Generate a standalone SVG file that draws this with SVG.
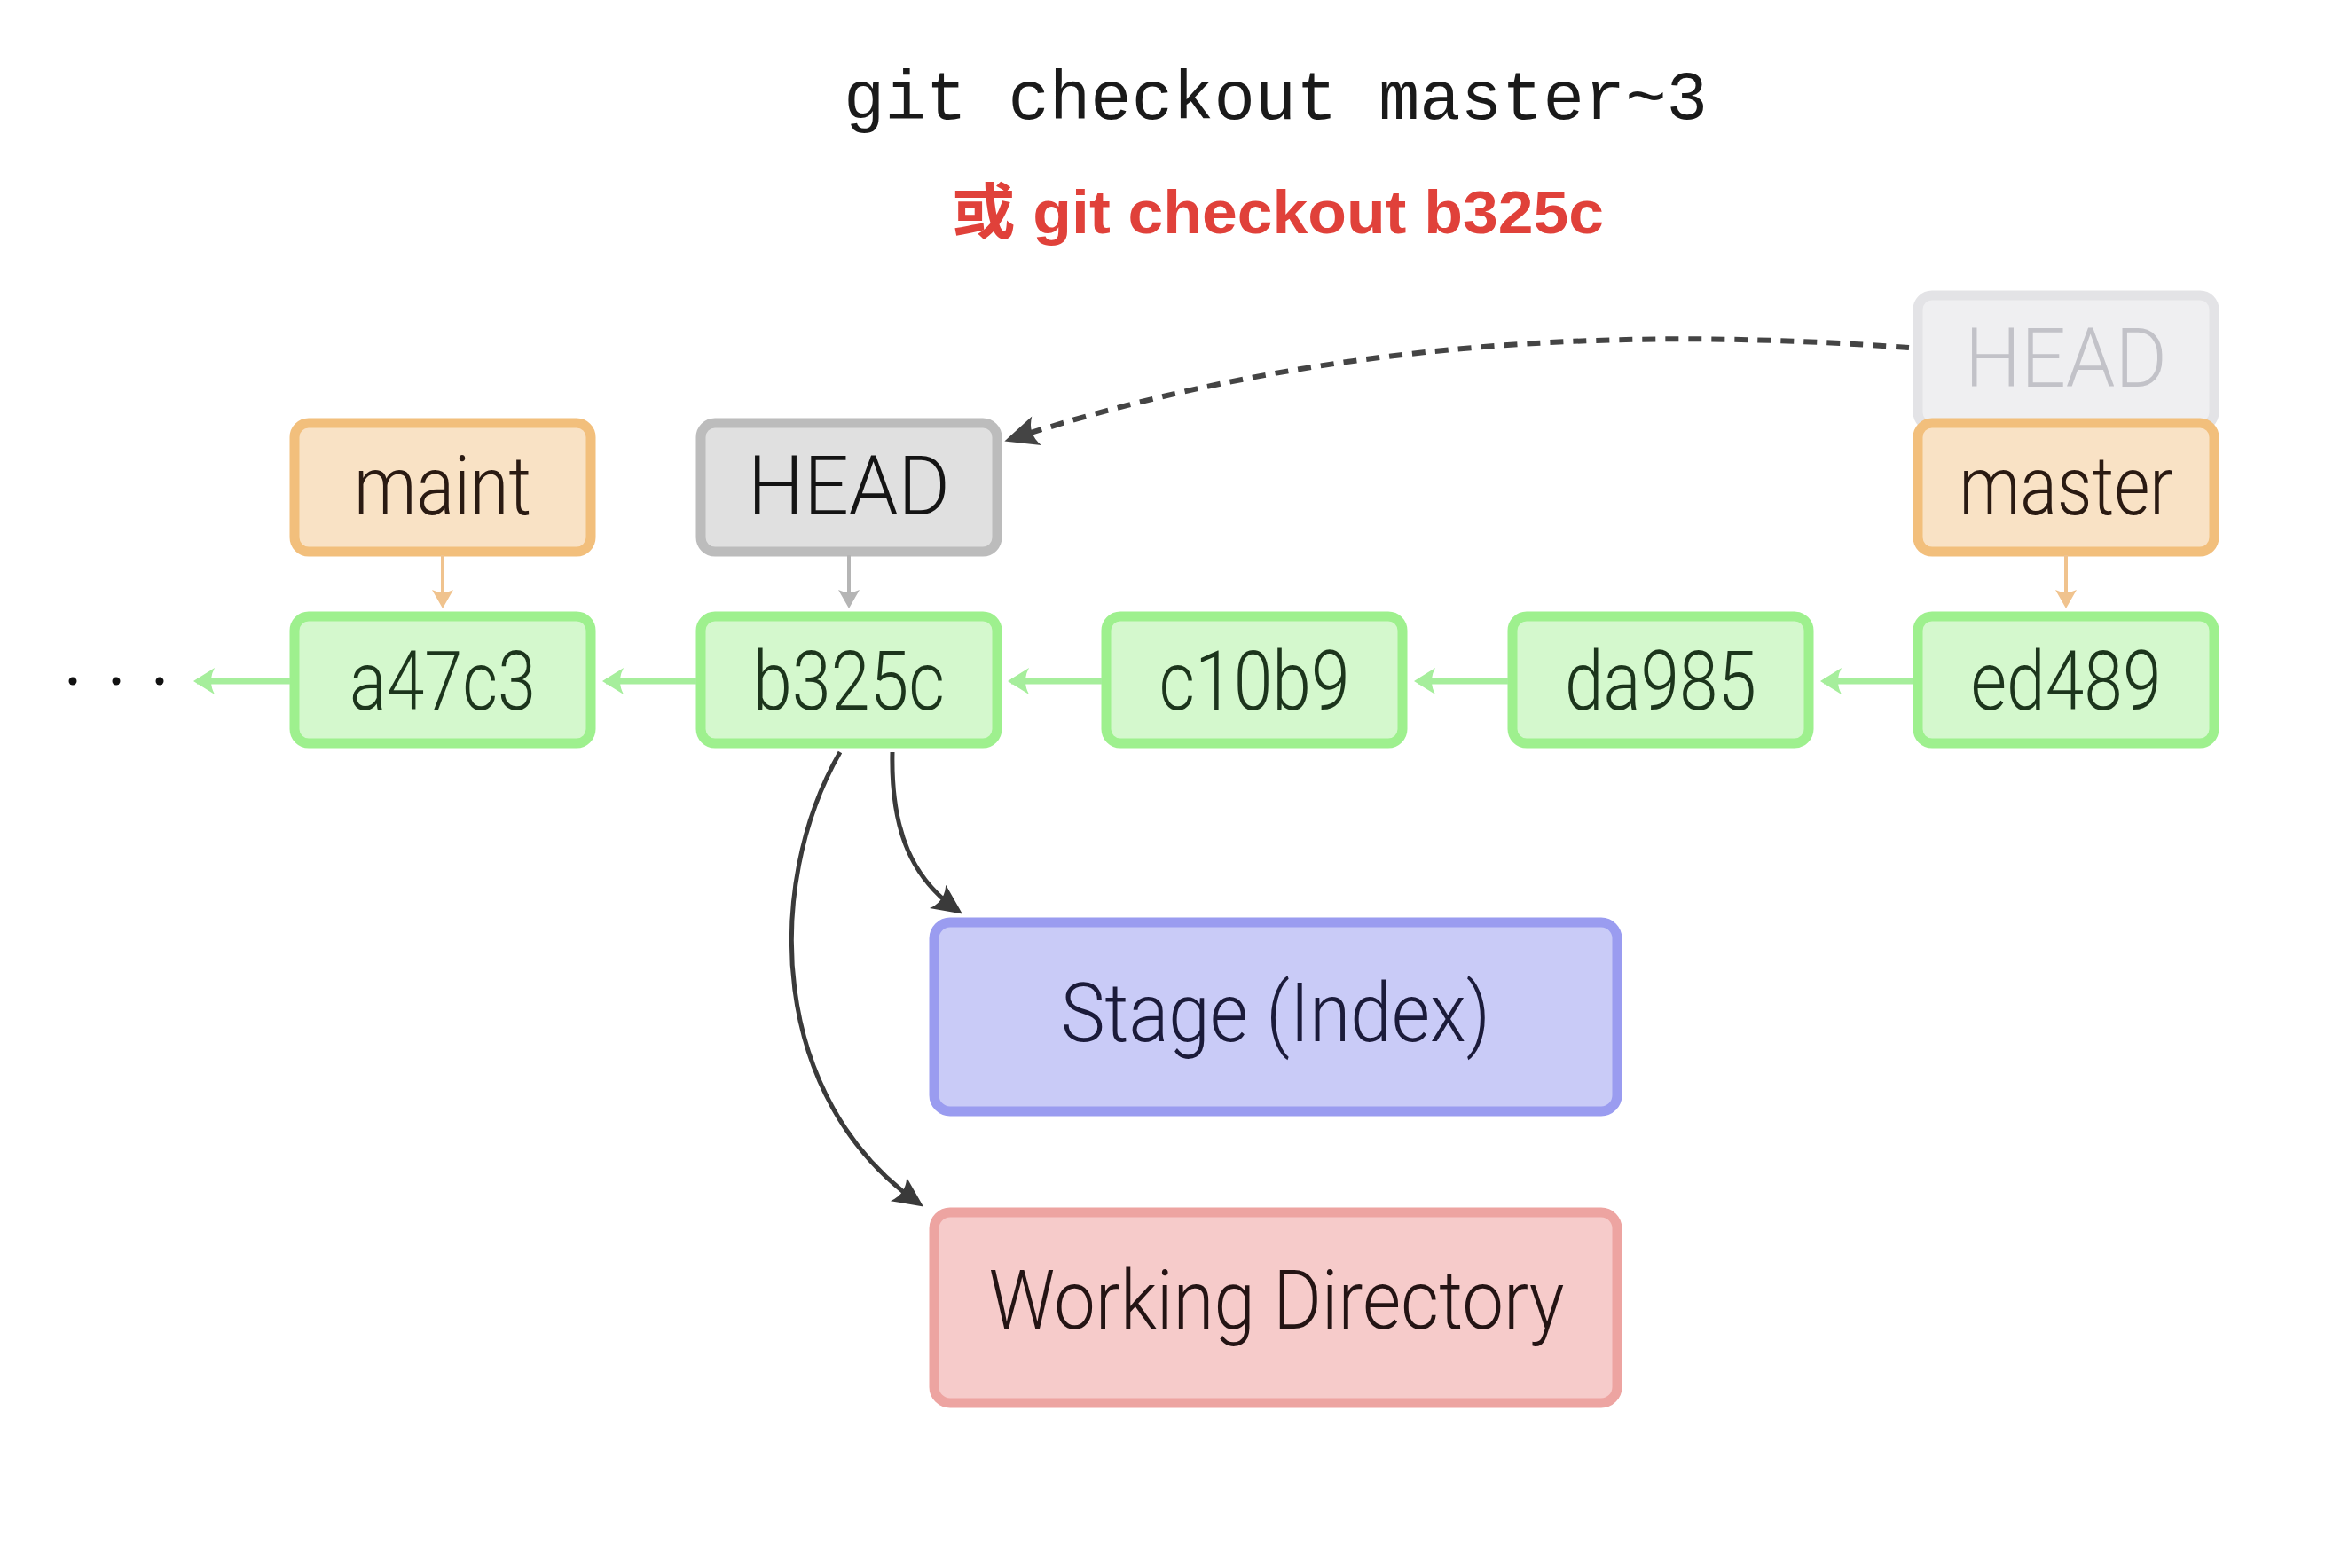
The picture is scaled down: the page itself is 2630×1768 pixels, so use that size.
<svg xmlns="http://www.w3.org/2000/svg" width="2630" height="1768" viewBox="0 0 2630 1768">
<style>
.title{font-family:"Liberation Mono","DejaVu Sans Mono",monospace;font-size:77px;fill:#1a1a1a}
.sub{font-family:"Liberation Sans","Noto Sans CJK SC",sans-serif;font-weight:bold;font-size:68px;fill:#e0413a}
.lbl{font-family:Roboto,"Liberation Sans",sans-serif;font-weight:300;font-size:92px;text-anchor:middle}
.commit rect{fill:#d4f8cd;stroke:#9ef08e;stroke-width:11}
.commit text{fill:#1c351c}
.branch rect{fill:#f9e2c5;stroke:#f2bf7c;stroke-width:11}
.branch text{fill:#2a1a12}
.head rect{fill:#e0e0e0;stroke:#bcbcbc;stroke-width:11}
.head text{fill:#141414}
.ghost rect{fill:#efeff1;stroke:#e3e3e6;stroke-width:11}
.ghost text{fill:#c2c2c8}
.stage rect{fill:#c9cbf7;stroke:#9a9cf0;stroke-width:11}
.stage text{fill:#1b1b3a}
.work rect{fill:#f6cbca;stroke:#eda4a1;stroke-width:11}
.work text{fill:#241414}
.gl{stroke:#a6ee9c;stroke-width:7;fill:none}
.ol{stroke:#f0c38e;stroke-width:4;fill:none}
.hl{stroke:#b5b5b5;stroke-width:4;fill:none}
.dl{stroke:#444;stroke-width:6;fill:none;stroke-dasharray:15 11}
.bl{stroke:#3a3a3a;stroke-width:5;fill:none}
.dots{fill:#111}
</style>
<defs>
<marker id="ahG" markerUnits="userSpaceOnUse" markerWidth="40" markerHeight="40" viewBox="0 0 40 40" refX="30" refY="20" orient="auto"><path d="M34,20 L10,5 Q18,20 10,35 Z" fill="#a6ee9c"/></marker>
<marker id="ahO" markerUnits="userSpaceOnUse" markerWidth="40" markerHeight="40" viewBox="0 0 40 40" refX="27" refY="20" orient="auto"><path d="M31,20 L10,8 Q16,20 10,32 Z" fill="#f0c38e"/></marker>
<marker id="ahH" markerUnits="userSpaceOnUse" markerWidth="40" markerHeight="40" viewBox="0 0 40 40" refX="27" refY="20" orient="auto"><path d="M31,20 L10,8 Q16,20 10,32 Z" fill="#b5b5b5"/></marker>
<marker id="ahK" markerUnits="userSpaceOnUse" markerWidth="50" markerHeight="50" viewBox="0 0 50 50" refX="38" refY="25" orient="auto"><path d="M44,25 L10,9 Q20,25 10,41 Z" fill="#3a3a3a"/></marker>
<marker id="ahD" markerUnits="userSpaceOnUse" markerWidth="50" markerHeight="50" viewBox="0 0 50 50" refX="38" refY="25" orient="auto"><path d="M46,25 L8,8 Q19,25 8,42 Z" fill="#444"/></marker>
</defs>
<rect width="2630" height="1768" fill="#ffffff"/>
<text class="title" x="951" y="134" textLength="974" lengthAdjust="spacingAndGlyphs">git checkout master~3</text>
<text class="sub" x="1073" y="263" textLength="735" lengthAdjust="spacingAndGlyphs">或 git checkout b325c</text>

<g id="ghost-head" class="ghost"><rect x="2162" y="333" width="334" height="148" rx="16"/><text class="lbl" x="2329" y="436" textLength="228" lengthAdjust="spacingAndGlyphs">HEAD</text></g>
<g id="maint" class="branch"><rect x="332" y="477" width="334" height="145" rx="16"/><text class="lbl" x="499" y="580" textLength="200" lengthAdjust="spacingAndGlyphs">maint</text></g>
<g id="head" class="head"><rect x="790" y="477" width="334" height="145" rx="16"/><text class="lbl" x="957" y="580" textLength="228" lengthAdjust="spacingAndGlyphs">HEAD</text></g>
<g id="master" class="branch"><rect x="2162" y="477" width="334" height="145" rx="16"/><text class="lbl" x="2329" y="580" textLength="241" lengthAdjust="spacingAndGlyphs">master</text></g>

<g id="a47c3" class="commit"><rect x="332" y="695" width="334" height="143" rx="16"/><text class="lbl" x="499" y="800" textLength="210" lengthAdjust="spacingAndGlyphs">a47c3</text></g>
<g id="b325c" class="commit"><rect x="790" y="695" width="334" height="143" rx="16"/><text class="lbl" x="957" y="800" textLength="216" lengthAdjust="spacingAndGlyphs">b325c</text></g>
<g id="c10b9" class="commit"><rect x="1247" y="695" width="334" height="143" rx="16"/><text class="lbl" x="1414" y="800" textLength="215" lengthAdjust="spacingAndGlyphs">c10b9</text></g>
<g id="da985" class="commit"><rect x="1705" y="695" width="334" height="143" rx="16"/><text class="lbl" x="1872" y="800" textLength="216" lengthAdjust="spacingAndGlyphs">da985</text></g>
<g id="ed489" class="commit"><rect x="2162" y="695" width="334" height="143" rx="16"/><text class="lbl" x="2329" y="800" textLength="215" lengthAdjust="spacingAndGlyphs">ed489</text></g>

<g id="stage" class="stage"><rect x="1053" y="1040" width="770" height="213" rx="18"/><text class="lbl" x="1438" y="1174" textLength="484" lengthAdjust="spacingAndGlyphs">Stage (Index)</text></g>
<g id="working" class="work"><rect x="1053" y="1367" width="770" height="215" rx="18"/><text class="lbl" x="1439" y="1498" textLength="649" lengthAdjust="spacingAndGlyphs">Working Directory</text></g>

<g id="ellipsis" class="dots"><circle cx="82" cy="768" r="4.5"/><circle cx="131" cy="768" r="4.5"/><circle cx="180" cy="768" r="4.5"/></g>

<g id="connectors">
<path class="gl" d="M327,768 H222" marker-end="url(#ahG)"/>
<path class="gl" d="M785,768 H683" marker-end="url(#ahG)"/>
<path class="gl" d="M1242,768 H1140" marker-end="url(#ahG)"/>
<path class="gl" d="M1700,768 H1598" marker-end="url(#ahG)"/>
<path class="gl" d="M2157,768 H2056" marker-end="url(#ahG)"/>
<path class="ol" d="M499,626 V682" marker-end="url(#ahO)"/>
<path class="hl" d="M957,626 V682" marker-end="url(#ahH)"/>
<path class="ol" d="M2329,626 V682" marker-end="url(#ahO)"/>
<path class="dl" d="M2152,392 C1850,370 1500,378 1140,495" marker-end="url(#ahD)"/>
<path class="bl" d="M1006,848 C1004,940 1030,992 1080,1027" marker-end="url(#ahK)"/>
<path class="bl" d="M947,848 C860,1000 868,1240 1036,1357" marker-end="url(#ahK)"/>
</g>
</svg>
